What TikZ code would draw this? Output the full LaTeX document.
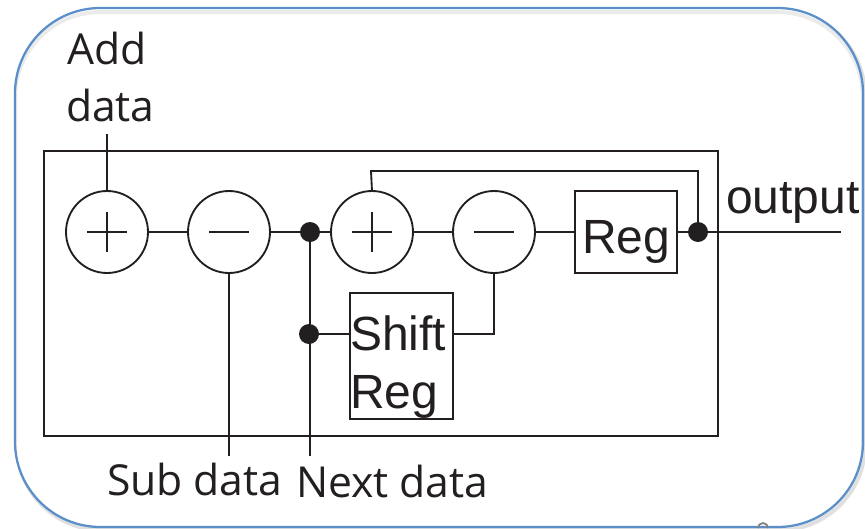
\documentclass[tikz,border=0pt]{standalone}
\usepackage{fontspec}
\setmainfont{Open Sans}
\newfontfamily\helv{Liberation Sans}
\definecolor{ink}{HTML}{231F20}
\definecolor{frameblue}{HTML}{5B8FC9}
\tikzset{
  wire/.style={draw=ink,line width=1.5pt},
  thin wire/.style={draw=ink,line width=1.4pt},
  op/.style={circle,draw=ink,line width=1.4pt,minimum size=61.5pt,inner sep=0pt,outer sep=0pt},
  dot/.style={circle,fill=ink,minimum size=15pt,inner sep=0pt,outer sep=0pt},
  box/.style={rectangle,draw=ink,line width=1.4pt,inner sep=0pt,outer sep=0pt},
  myriad/.style={anchor=base west,inner sep=0pt,outer sep=0pt,text=ink,font=\fontsize{32pt}{38pt}\selectfont},
  helvet/.style={anchor=base west,inner sep=0pt,outer sep=0pt,text=ink,font=\helv\fontsize{36pt}{43pt}\selectfont},
  sign/.style={draw=ink,line width=1.1pt},
}
\begin{document}
\begin{tikzpicture}[x=0.75pt,y=-0.75pt]
\useasboundingbox (0,0) rectangle (865,529);
\fill[white] (0,0) rectangle (865,529);
% soft shadow and rounded frame
\draw[black!12,line width=3pt,rounded corners=64pt] (17,11) rectangle (865,530);
\fill[white,rounded corners=64pt] (15,8) rectangle (863,527);
\begin{scope}
  \clip[rounded corners=64pt] (15,8) rectangle (863,527);
  \draw[black!8,line width=3pt,rounded corners=64pt] (15,12) rectangle (863,560);
\end{scope}
\draw[frameblue,line width=1.7pt,rounded corners=64pt] (15,8) rectangle (863,527);
% stray mark at the bottom edge
\draw[gray,line width=1.3pt] (758,528) arc[start angle=180,end angle=360,radius=5];
% main block
\draw[wire] (44,151) rectangle (718,436);
% elements
\node[op] (a1) at (107,232) {};
\node[op] (s1) at (229,232) {};
\node[op] (a2) at (372,232) {};
\node[op] (s2) at (494,232) {};
\node[box,minimum width=76.5pt,minimum height=61.5pt] (reg) at (626,232) {};
\node[box,minimum width=77pt,minimum height=94.5pt] (shift) at (401.5,356) {};
\node[dot] (d1) at (310,232) {};
\node[dot] (d2) at (309,334) {};
\node[dot] (d3) at (698,232) {};
\coordinate (addend) at (107,134);
\coordinate (subend) at (229,456);
\coordinate (nextend) at (310,456);
\coordinate (outend) at (841,232);
\coordinate (fb1) at (371,171);
\coordinate (fb2) at (698,171);
\coordinate (sh1) at (494,334);
% signs
\draw[sign] (87,232) -- (127,232) (107,212) -- (107,252);
\draw[sign] (209,232) -- (249,232);
\draw[sign] (352,232) -- (392,232) (372,212) -- (372,252);
\draw[sign] (474,232) -- (514,232);
% connectors
\draw[thin wire] (addend) -- (a1.north);
\draw[thin wire] (a1) -- (s1);
\draw[thin wire] (s1) -- (d1);
\draw[thin wire] (d1) -- (a2);
\draw[thin wire] (a2) -- (s2);
\draw[thin wire] (s2) -- (reg);
\draw[thin wire] (reg) -- (d3);
\draw[thin wire] (d3) -- (outend);
\draw[thin wire] (s1.south) -- (subend);
\draw[thin wire] (d1) -- (nextend);
\draw[thin wire] (d2) -- (shift.west |- d2);
\draw[thin wire] (shift.east |- sh1) -- (sh1) -- (s2.south);
\draw[thin wire] (a2.north) -- (fb1) -- (fb2) -- (d3);
% labels
\node[myriad] (ladd) at (67,64) {Add};
\node[myriad] (ldata) at (66,121) {data};
\node[myriad] (lsub) at (107,495) {Sub data};
\node[myriad] (lnext) at (296,497) {Next data};
\node[helvet] (lout) at (726,213) {output};
\node[helvet] (lreg) at (582,253) {Reg};
\node[helvet] (lshift) at (350,350) {Shift};
\node[helvet] (lsreg) at (350,408) {Reg};
\end{tikzpicture}
\end{document}
